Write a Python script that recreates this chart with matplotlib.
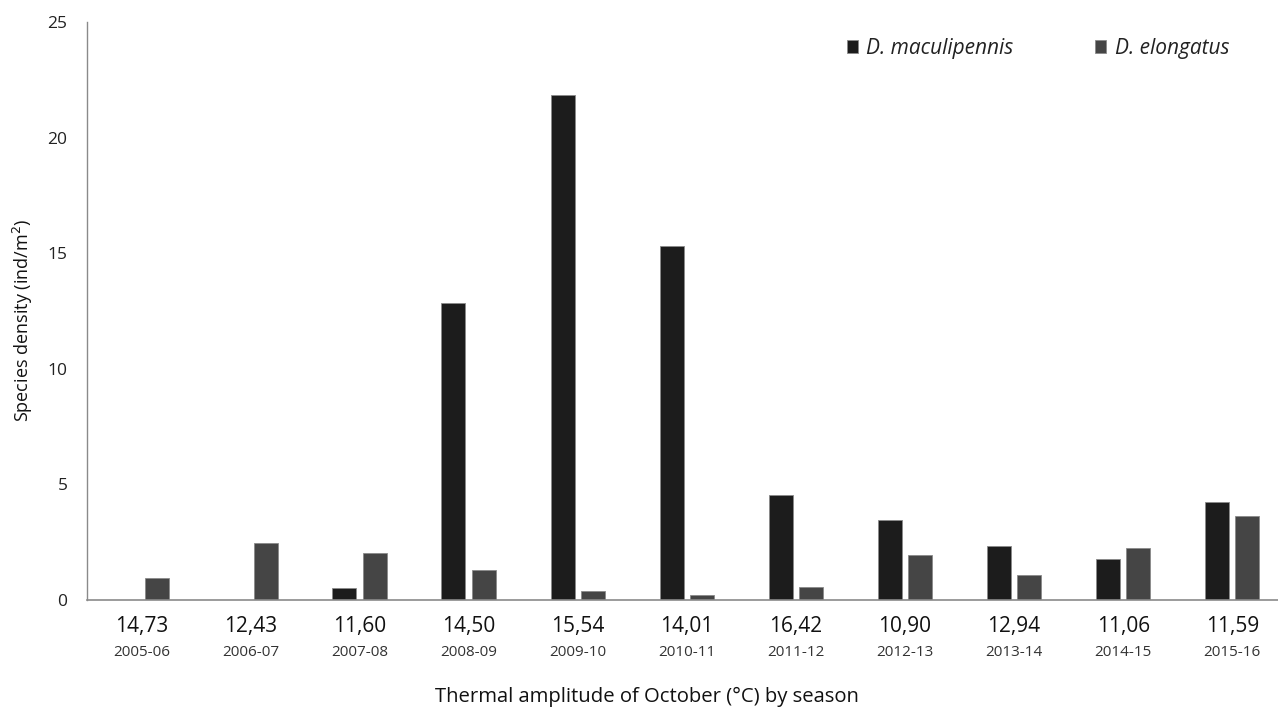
import numpy as np
import matplotlib
matplotlib.use("Agg")
import matplotlib.pyplot as plt

# October thermal amplitude (°C) for each season
amplitudes = ["14,73", "12,43", "11,60", "14,50", "15,54", "14,01",
              "16,42", "10,90", "12,94", "11,06", "11,59"]
seasons = ["2005-06", "2006-07", "2007-08", "2008-09", "2009-10", "2010-11",
           "2011-12", "2012-13", "2013-14", "2014-15", "2015-16"]

# species density (ind/m2)
maculipennis = [0.0, 0.0, 0.53, 12.83, 21.85, 15.3, 4.56, 3.44, 2.34, 1.78, 4.23]
elongatus = [0.97, 2.46, 2.04, 1.30, 0.40, 0.23, 0.55, 1.95, 1.10, 2.25, 3.64]

plt.rcParams['font.family'] = ['Open Sans', 'DejaVu Sans']

fig = plt.figure(figsize=(12.78, 7.08), dpi=100)
ax = fig.add_axes([87 / 1278, 1 - 600 / 708, (1278 - 87) / 1278, (600 - 22) / 708])

x = np.arange(len(seasons))
w = 0.22
off = 0.14
ax.bar(x - off, maculipennis, w, color='#1c1c1c', edgecolor='#8a8a8a', linewidth=0.6,
       label='D. maculipennis')
ax.bar(x + off, elongatus, w, color='#454545', edgecolor='#8a8a8a', linewidth=0.6,
       label='D. elongatus')

ax.set_xlim(-0.5, 10.42)
ax.set_ylim(0, 25)
ax.set_yticks([0, 5, 10, 15, 20, 25])
ax.tick_params(axis='y', length=0, pad=14, labelsize=12.5, labelcolor='#222222')
ax.set_xticks([])

for s in ['top', 'right']:
    ax.spines[s].set_visible(False)
ax.spines['left'].set_color('#8a8a8a')
ax.spines['bottom'].set_color('#8a8a8a')
ax.spines['left'].set_linewidth(1.0)
ax.spines['bottom'].set_linewidth(1.2)

# two-line category labels: amplitude above, season below
trans = ax.get_xaxis_transform()
for i in range(len(seasons)):
    ax.text(x[i], -0.045, amplitudes[i], transform=trans, ha='center', va='center',
            fontsize=15, color='#111111')
    ax.text(x[i], -0.09, seasons[i], transform=trans, ha='center', va='center',
            fontsize=11, color='#333333')

fig.text(647 / 1278, 1 - 697 / 708, 'Thermal amplitude of October (°C) by season',
         ha='center', va='center', fontsize=14.6, color='#111111')
fig.text(23 / 1278, 1 - 320 / 708, 'Species density (ind/m$^2$)', rotation=90,
         ha='center', va='center', fontsize=13, color='#111111')

leg = ax.legend(loc='upper left', bbox_to_anchor=(0.622, 1.005), ncol=2, frameon=False,
                prop={'style': 'italic', 'size': 15}, handlelength=0.55, handleheight=0.55,
                handletextpad=0.4, columnspacing=3.9)
for t in leg.get_texts():
    t.set_color('#222222')

fig.savefig('out.png', dpi=100)
